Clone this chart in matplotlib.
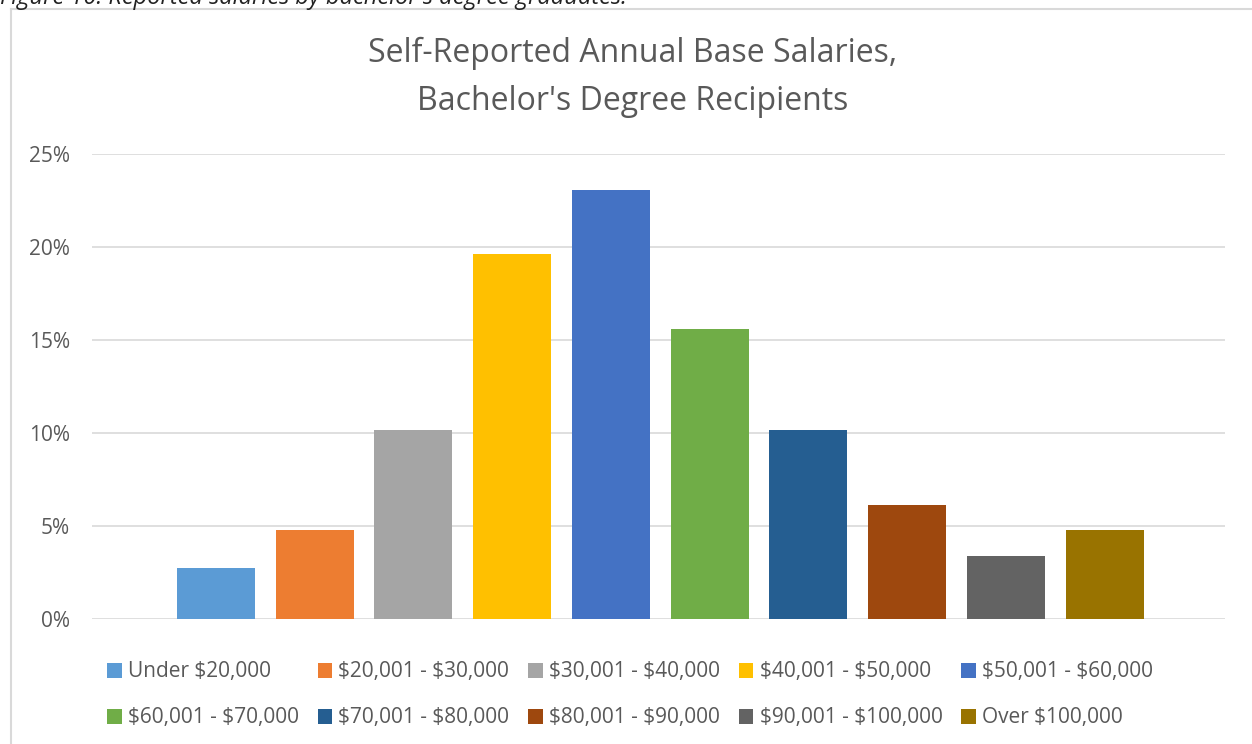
import matplotlib
matplotlib.use("Agg")
import matplotlib.pyplot as plt
from matplotlib.lines import Line2D
from matplotlib.patches import Patch

categories = ["Under $20,000", "$20,001 - $30,000", "$30,001 - $40,000",
              "$40,001 - $50,000", "$50,001 - $60,000", "$60,001 - $70,000",
              "$70,001 - $80,000", "$80,001 - $90,000", "$90,001 - $100,000",
              "Over $100,000"]
values = [2.74, 4.78, 10.16, 19.62, 23.06, 15.59, 10.16, 6.13, 3.39, 4.78]
colors = ["#5B9BD5", "#ED7D31", "#A5A5A5", "#FFC000", "#4472C4",
          "#70AD47", "#255E91", "#9E480E", "#636363", "#997300"]
yticks = [0, 5, 10, 15, 20, 25]
title = "Self-Reported Annual Base Salaries,\nBachelor's Degree Recipients"
caption = "Figure 10: Reported salaries by bachelor's degree graduates."

plt.rcParams['font.family'] = ['Open Sans', 'DejaVu Sans']
plt.rcParams['text.parse_math'] = False
W, H = 1252, 744
fig = plt.figure(figsize=(W / 100, H / 100), dpi=100)

# frame lines (chart border extends beyond image)
fig.add_artist(Line2D([11 / W, 11 / W], [0, 1 - 9 / H], transform=fig.transFigure,
                      color="#D9D9D9", lw=1.5))
fig.add_artist(Line2D([11 / W, 1], [1 - 9 / H, 1 - 9 / H], transform=fig.transFigure,
                      color="#D9D9D9", lw=1.5))
fig.text(0 / W, 1 - 4 / H, caption, fontsize=17, style='italic', color="#222222",
         ha='left', va='baseline')

left, right = 92 / W, 1225 / W
bottom, top = (H - 619) / H, (H - 154) / H
ax = fig.add_axes([left, bottom, right - left, top - bottom])

x = list(range(len(values)))
bars = ax.bar(x, values, width=0.79, color=colors, zorder=3)
ax.set_xlim(-1.256, 10.22)
ax.set_ylim(0, 25)
ax.set_yticks(yticks)
ax.set_yticklabels([f"{t}%" for t in yticks], color="#595959", fontsize=15)
ax.tick_params(axis='y', length=0, pad=16)
ax.set_xticks([])
ax.grid(axis='y', color="#D9D9D9", lw=1.2, zorder=0)
for s in ax.spines.values():
    s.set_visible(False)

fig.text(633 / W, 1 - 77 / H, title, ha='center', va='center', fontsize=23,
         color="#595959", linespacing=1.6)

handles = [Patch(facecolor=c, edgecolor='none') for c in colors]
order = [0, 5, 1, 6, 2, 7, 3, 8, 4, 9]
leg = fig.legend([handles[i] for i in order], [categories[i] for i in order],
                 ncol=5, loc='center', bbox_to_anchor=(630 / W, 1 - 695 / H),
                 frameon=False, fontsize=15, handlelength=0.7, handleheight=0.7,
                 handletextpad=0.3, columnspacing=0.9, labelspacing=1.2,
                 borderpad=0, borderaxespad=0)
for t in leg.get_texts():
    t.set_color("#595959")

fig.savefig("out.png", dpi=100)
